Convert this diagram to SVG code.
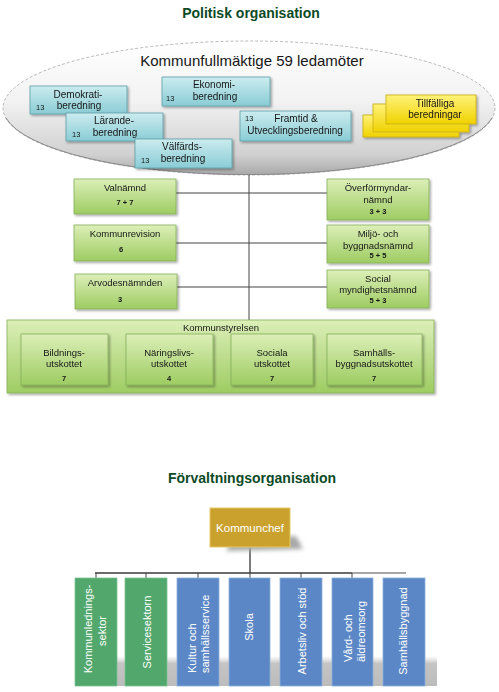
<svg xmlns="http://www.w3.org/2000/svg" width="499" height="692" viewBox="0 0 499 692">
<style>
text{font-family:"Liberation Sans",Arial,sans-serif;fill:#161616}
.title{font-size:14px;font-weight:bold;fill:#0d4a26;text-anchor:middle}
.t10{font-size:10px;text-anchor:middle}
.t95{font-size:9.5px;text-anchor:middle}
.num{font-size:7.5px;font-weight:bold;text-anchor:middle}
.n13{font-size:7.5px}
.teal{fill:url(#gTeal);stroke:#5e9fa9;stroke-width:0.8}
.yel{fill:url(#gYel);stroke:#c8ad10;stroke-width:0.8}
.grn{fill:url(#gGrn);stroke:#86b05a;stroke-width:0.8}
.line{stroke:#444;stroke-width:1;fill:none}
.vt{font-size:11px;fill:#fff;text-anchor:middle}
.vs{font-size:11px;fill:#fff;text-anchor:start}
.bg{fill:#52a76d;stroke:#7cc493;stroke-width:0.8}
.bb{fill:#5b87c6;stroke:#8fb0dd;stroke-width:0.8}
</style>
<defs>
<linearGradient id="gTeal" x1="0" y1="0" x2="0" y2="1"><stop offset="0" stop-color="#cbecef"/><stop offset="1" stop-color="#8accd5"/></linearGradient>
<linearGradient id="gYel" x1="0" y1="0" x2="0" y2="1"><stop offset="0" stop-color="#fff27a"/><stop offset="1" stop-color="#f0d200"/></linearGradient>
<linearGradient id="gGrn" x1="0" y1="0" x2="0" y2="1"><stop offset="0" stop-color="#dcefb8"/><stop offset="1" stop-color="#9ecc62"/></linearGradient>
<linearGradient id="gEll" x1="0" y1="0" x2="0" y2="1"><stop offset="0" stop-color="#ffffff"/><stop offset="0.45" stop-color="#f2f2f2"/><stop offset="0.85" stop-color="#d0d0d0"/><stop offset="1" stop-color="#a8a8a8"/></linearGradient>
<linearGradient id="gSh" x1="0" y1="0" x2="0" y2="1"><stop offset="0" stop-color="#d0d0d0" stop-opacity="0"/><stop offset="0.25" stop-color="#c4c4c4"/><stop offset="1" stop-color="#bcbcbc"/></linearGradient>
<filter id="ds" x="-10%" y="-10%" width="125%" height="140%"><feDropShadow dx="1.5" dy="1.5" stdDeviation="1" flood-color="#000" flood-opacity="0.35"/></filter>
<filter id="blur" x="-20%" y="-50%" width="140%" height="200%"><feGaussianBlur stdDeviation="2"/></filter>
</defs>

<text class="title" x="251" y="18">Politisk organisation</text>

<g id="kommunfullmaktige">
<ellipse cx="249" cy="108" rx="246" ry="67" fill="url(#gEll)" stroke="#9a9a9a" stroke-width="0.7" stroke-dasharray="3 2"/>
<path d="M6,118 A246,67 0 0 0 492,118" fill="none" stroke="#8a8a8a" stroke-width="1"/>
<text x="252" y="66" style="font-size:15px;text-anchor:middle">Kommunfullmäktige 59 ledamöter</text>
</g>

<g id="connectors">
<line class="line" x1="249" y1="175" x2="249" y2="320"/>
<line class="line" x1="176" y1="193" x2="327" y2="193"/>
<line class="line" x1="176" y1="243" x2="327" y2="243"/>
<line class="line" x1="177" y1="287" x2="327" y2="287"/>
<line stroke="#444" stroke-width="1.4" x1="250" y1="547" x2="250" y2="573"/>
<line stroke="#3a3a3a" stroke-width="1.4" x1="95" y1="573" x2="352" y2="573"/>
<line stroke="#8a8a8a" stroke-width="1.4" x1="352" y1="573" x2="406" y2="573"/>
<g stroke="#444" stroke-width="1">
<line x1="96" y1="573" x2="96" y2="578"/><line x1="146" y1="573" x2="146" y2="578"/><line x1="198" y1="573" x2="198" y2="578"/><line x1="250" y1="573" x2="250" y2="578"/><line x1="301" y1="573" x2="301" y2="578"/><line x1="352" y1="573" x2="352" y2="578"/>
</g>
</g>

<g id="demokrati" filter="url(#ds)">
<rect class="teal" x="30" y="86" width="97" height="28"/>
<text class="t10" x="78" y="98">Demokrati-</text>
<text class="t10" x="79" y="109">beredning</text>
<text class="n13" x="36" y="110">13</text>
</g>
<g id="ekonomi" filter="url(#ds)">
<rect class="teal" x="162" y="77" width="108" height="29"/>
<text class="t10" x="214" y="88">Ekonomi-</text>
<text class="t10" x="215" y="100">beredning</text>
<text class="n13" x="166" y="101">13</text>
</g>
<g id="larande" filter="url(#ds)">
<rect class="teal" x="66" y="113" width="97" height="28"/>
<text class="t10" x="114" y="124">Lärande-</text>
<text class="t10" x="115" y="136">beredning</text>
<text class="n13" x="72" y="137">13</text>
</g>
<g id="framtid" filter="url(#ds)">
<rect class="teal" x="240" y="111" width="111" height="30"/>
<text class="t10" x="296" y="122">Framtid &amp;</text>
<text class="t10" x="295" y="134">Utvecklingsberedning</text>
<text class="n13" x="245" y="121">13</text>
</g>
<g id="valfards" filter="url(#ds)">
<rect class="teal" x="135" y="139" width="97" height="29"/>
<text class="t10" x="182" y="150">Välfärds-</text>
<text class="t10" x="183" y="162">beredning</text>
<text class="n13" x="141" y="163">13</text>
</g>
<g id="tillfalliga" filter="url(#ds)">
<rect class="yel" x="363" y="115" width="96" height="22"/>
<rect class="yel" x="373" y="104" width="96" height="28"/>
<rect class="yel" x="386" y="95" width="90" height="29"/>
<text class="t10" x="435" y="107">Tillfälliga</text>
<text class="t10" x="435" y="118">beredningar</text>
</g>

<g id="valnamnd" filter="url(#ds)">
<rect class="grn" x="74" y="179" width="102" height="35"/>
<text class="t95" x="125" y="191">Valnämnd</text>
<text class="num" x="125" y="205">7 + 7</text>
</g>
<g id="overformyndar" filter="url(#ds)">
<rect class="grn" x="327" y="179" width="102" height="41"/>
<text class="t95" x="378" y="191">Överförmyndar-</text>
<text class="t95" x="378" y="203">nämnd</text>
<text class="num" x="378" y="214">3 + 3</text>
</g>
<g id="kommunrevision" filter="url(#ds)">
<rect class="grn" x="74" y="225" width="102" height="36"/>
<text class="t95" x="125" y="237">Kommunrevision</text>
<text class="num" x="121" y="252">6</text>
</g>
<g id="miljo" filter="url(#ds)">
<rect class="grn" x="327" y="225" width="102" height="38"/>
<text class="t95" x="378" y="237">Miljö- och</text>
<text class="t95" x="378" y="249">byggnadsnämnd</text>
<text class="num" x="378" y="258">5 + 5</text>
</g>
<g id="arvodesnamnden" filter="url(#ds)">
<rect class="grn" x="75" y="274" width="102" height="35"/>
<text class="t95" x="125" y="286">Arvodesnämnden</text>
<text class="num" x="120" y="302">3</text>
</g>
<g id="social" filter="url(#ds)">
<rect class="grn" x="327" y="270" width="102" height="38"/>
<text class="t95" x="378" y="282">Social</text>
<text class="t95" x="378" y="293">myndighetsnämnd</text>
<text class="num" x="378" y="303">5 + 3</text>
</g>

<g id="kommunstyrelsen" filter="url(#ds)">
<rect class="grn" x="7" y="320" width="427" height="73"/>
<text class="t95" x="221" y="331">Kommunstyrelsen</text>
</g>
<g id="bildnings" filter="url(#ds)">
<rect class="grn" x="21" y="334" width="87" height="51"/>
<text class="t95" x="64" y="356">Bildnings-</text>
<text class="t95" x="64" y="367">utskottet</text>
<text class="num" x="64" y="381">7</text>
</g>
<g id="naringslivs" filter="url(#ds)">
<rect class="grn" x="126" y="334" width="87" height="51"/>
<text class="t95" x="169" y="356">Näringslivs-</text>
<text class="t95" x="169" y="367">utskottet</text>
<text class="num" x="169" y="381">4</text>
</g>
<g id="sociala" filter="url(#ds)">
<rect class="grn" x="231" y="334" width="82" height="51"/>
<text class="t95" x="272" y="356">Sociala</text>
<text class="t95" x="272" y="367">utskottet</text>
<text class="num" x="272" y="381">7</text>
</g>
<g id="samhallsbyggnads" filter="url(#ds)">
<rect class="grn" x="327" y="334" width="95" height="51"/>
<text class="t95" x="374" y="356">Samhälls-</text>
<text class="t95" x="374" y="367">byggnadsutskottet</text>
<text class="num" x="374" y="381">7</text>
</g>

<text class="title" x="252" y="483">Förvaltningsorganisation</text>

<g id="kommunchef">
<polygon points="232,540 296,536 303,549 226,551" fill="#a8a8a8" filter="url(#blur)"/>
<rect x="210" y="508" width="80" height="39" fill="#c9a12c" stroke="#e6c96a" stroke-width="1"/>
<text x="250" y="532" style="font-size:11.5px;fill:#fff;text-anchor:middle">Kommunchef</text>
</g>

<rect x="112" y="656" width="325" height="30" fill="url(#gSh)"/>

<g id="kommunledningssektor">
<rect class="bg" x="75" y="578" width="42" height="108"/>
<text class="vt" transform="translate(92,629) rotate(-90)">Kommunlednings-</text>
<text class="vt" transform="translate(106,631) rotate(-90)">sektor</text>
</g>
<g id="servicesektorn">
<rect class="bg" x="125" y="578" width="42" height="108"/>
<text class="vt" transform="translate(151,632) rotate(-90)">Servicesektorn</text>
</g>
<g id="kultur">
<rect class="bb" x="177" y="578" width="42" height="108"/>
<text class="vs" transform="translate(196,673) rotate(-90)">Kultur och</text>
<text class="vs" transform="translate(209,673) rotate(-90)">samhällsservice</text>
</g>
<g id="skola">
<rect class="bb" x="229" y="578" width="41" height="108"/>
<text class="vt" transform="translate(253,627) rotate(-90)">Skola</text>
</g>
<g id="arbetsliv">
<rect class="bb" x="280" y="578" width="42" height="108"/>
<text class="vt" transform="translate(306,631) rotate(-90)">Arbetsliv och stöd</text>
</g>
<g id="vard">
<rect class="bb" x="332" y="578" width="41" height="108"/>
<text class="vs" transform="translate(352,662) rotate(-90)">Vård- och</text>
<text class="vs" transform="translate(365,662) rotate(-90)">äldreomsorg</text>
</g>
<g id="samhallsbyggnad">
<rect class="bb" x="383" y="578" width="42" height="108"/>
<text class="vt" transform="translate(407,631) rotate(-90)">Samhällsbyggnad</text>
</g>
</svg>
